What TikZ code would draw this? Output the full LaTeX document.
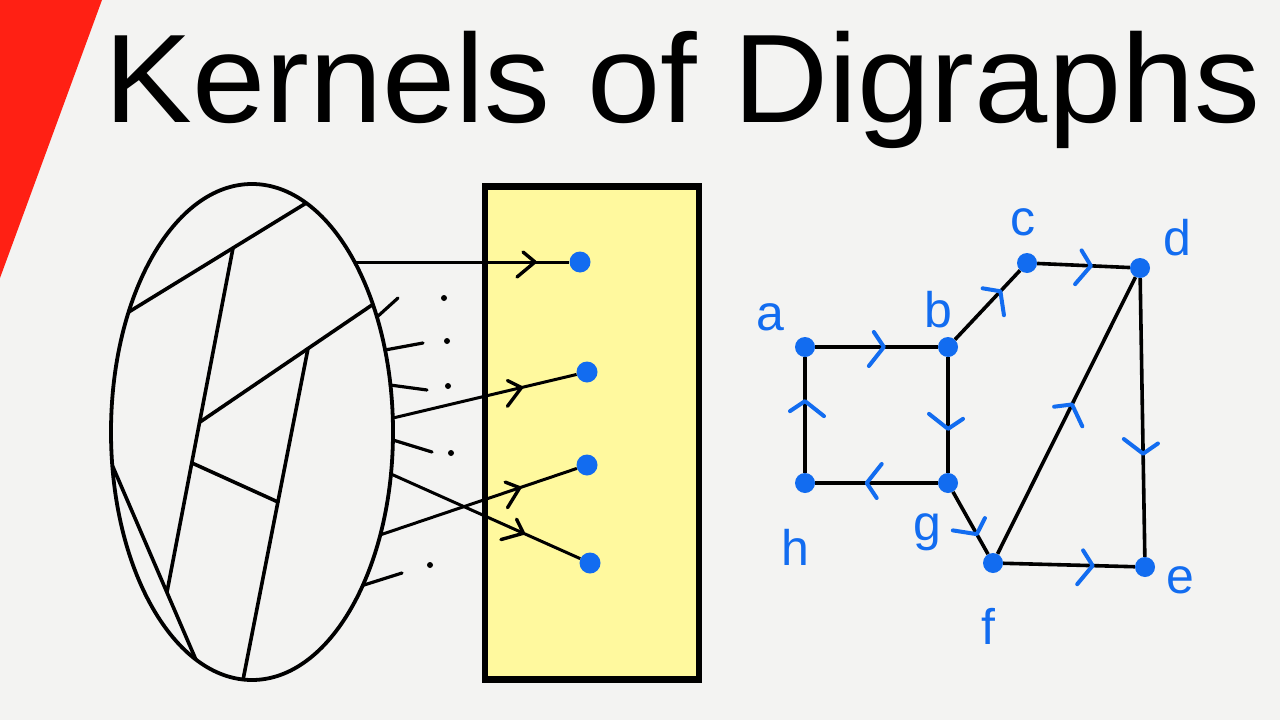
\documentclass[tikz,border=0pt]{standalone}
\usepackage{fontspec}
\usetikzlibrary{shapes.geometric,decorations.markings}
\newfontfamily\titlefont{Liberation Sans}
\newfontfamily\lblfont{Liberation Sans}
\definecolor{paper}{RGB}{243,243,242}
\definecolor{redtri}{RGB}{255,32,20}
\definecolor{kyellow}{RGB}{255,249,158}
\definecolor{dotblue}{RGB}{18,108,240}
\tikzset{
  midk/.style={postaction={decorate,decoration={markings,mark=at position #1 with {\draw[black,line width=3.4pt,line cap=round,line join=round] (-12pt,10pt) -- (0pt,0pt) -- (-18pt,-15pt);}}}},
  midb/.style={postaction={decorate,decoration={markings,mark=at position #1 with {\draw[dotblue,line width=4pt,line cap=round,line join=round] (-10pt,15pt) -- (0pt,0pt) -- (-15pt,-19pt);}}}},
  bdot/.style={circle,fill=dotblue,inner sep=0pt,minimum size=21pt},
  gdot/.style={circle,fill=dotblue,inner sep=0pt,minimum size=20pt},
  sdot/.style={circle,fill=black,inner sep=0pt,minimum size=6pt},
  kline/.style={line width=3pt,black},
  stub/.style={line width=3.2pt,black,line cap=round},
  inner/.style={line width=3.6pt,black,line cap=round},
  gedge/.style={line width=3.6pt,black},
  lbl/.style={text=dotblue,font=\lblfont\fontsize{50}{56}\selectfont,anchor=base,inner sep=0pt},
}
\begin{document}
\begin{tikzpicture}[x=1pt,y=-1pt]
\useasboundingbox (0,0) rectangle (1280,720);
\fill[paper] (0,0) rectangle (1280,720);
\fill[redtri] (0,0) -- (102,0) -- (0,278) -- cycle;

% title
\node[anchor=base west,inner sep=0pt,xscale=1.045,font=\titlefont\fontsize{126}{130}\selectfont] (title) at (104,122) {Kernels of Digraphs};

% yellow kernel box
\node[draw,line width=6.5pt,fill=kyellow,minimum width=214pt,minimum height=493pt,inner sep=0pt] (kbox) at (592,433) {};

% ellipse
\node[draw,ellipse,line width=3.8pt,minimum width=282pt,minimum height=496pt,inner sep=0pt] (ell) at (252,432) {};
\begin{scope}
\clip (252,432) ellipse [x radius=141pt, y radius=248pt];
\draw[inner] (102,328.4) -- (333,186.6);
\draw[inner] (233,248) -- (167,592);
\draw[inner] (200,422) -- (412,277.8);
\draw[inner] (308,348.5) -- (238,705.5);
\draw[inner] (192,463) -- (278,502);
\draw[inner] (100,436.8) -- (206,683.2);
\end{scope}

% kernel dots
\node[bdot] (k1) at (580,262) {};
\node[bdot] (k2) at (587,372) {};
\node[bdot] (k3) at (587,465) {};
\node[bdot] (k4) at (590,563) {};

% start points on the ellipse
\coordinate (s1) at (355,262);
\coordinate (s2) at (393,418);
\coordinate (s3) at (391,474);
\coordinate (s4) at (380,535);
\draw[kline,midk=0.84] (s1) -- (k1);
\draw[kline,midk=0.7] (s2) -- (k2);
\draw[kline,midk=0.7] (s3) -- (k4);
\draw[kline,midk=0.71] (s4) -- (k3);

% short stubs
\coordinate (t1a) at (377,317); \coordinate (t1b) at (398,298);
\coordinate (t2a) at (385,350); \coordinate (t2b) at (423,343);
\coordinate (t3a) at (390,385); \coordinate (t3b) at (427,390);
\coordinate (t4a) at (393,440); \coordinate (t4b) at (432,452);
\coordinate (t5a) at (364,585); \coordinate (t5b) at (402,573);
\draw[stub] (t1a) -- (t1b);
\draw[stub] (t2a) -- (t2b);
\draw[stub] (t3a) -- (t3b);
\draw[stub] (t4a) -- (t4b);
\draw[stub] (t5a) -- (t5b);

% ellipsis dots
\node[sdot] (e1) at (444,298) {};
\node[sdot] (e2) at (447,341) {};
\node[sdot] (e3) at (448,386) {};
\node[sdot] (e4) at (451,453) {};
\node[sdot] (e5) at (430,565) {};

% digraph
\node[gdot] (a) at (805,347) {};
\node[gdot] (b) at (948,347) {};
\node[gdot] (c) at (1027,263) {};
\node[gdot] (d) at (1140,268) {};
\node[gdot] (e) at (1145,567) {};
\node[gdot] (f) at (993,563) {};
\node[gdot] (g) at (948,483) {};
\node[gdot] (h) at (805,483) {};

\draw[gedge,midb=0.56] (a) -- (b);
\draw[gedge,midb=0.7] (b) -- (c);
\draw[gedge,midb=0.58] (c) -- (d);
\draw[gedge,midb=0.63] (d) -- (e);
\draw[gedge,midb=0.62] (b) -- (g);
\draw[gedge,midb=0.58] (g) -- (h);
\draw[gedge,midb=0.62] (h) -- (a);
\draw[gedge,midb=0.68] (g) -- (f);
\draw[gedge,midb=0.54] (f) -- (d);
\draw[gedge,midb=0.68] (f) -- (e);

\node[lbl] (la) at (770,330) {a};
\node[lbl] (lb) at (938,327) {b};
\node[lbl] (lc) at (1023,235) {c};
\node[lbl] (ld) at (1177,255) {d};
\node[lbl] (le) at (1180,593) {e};
\node[lbl] (lf) at (988,644) {f};
\node[lbl] (lg) at (927,540) {g};
\node[lbl] (lh) at (795,565) {h};
\end{tikzpicture}
\end{document}
